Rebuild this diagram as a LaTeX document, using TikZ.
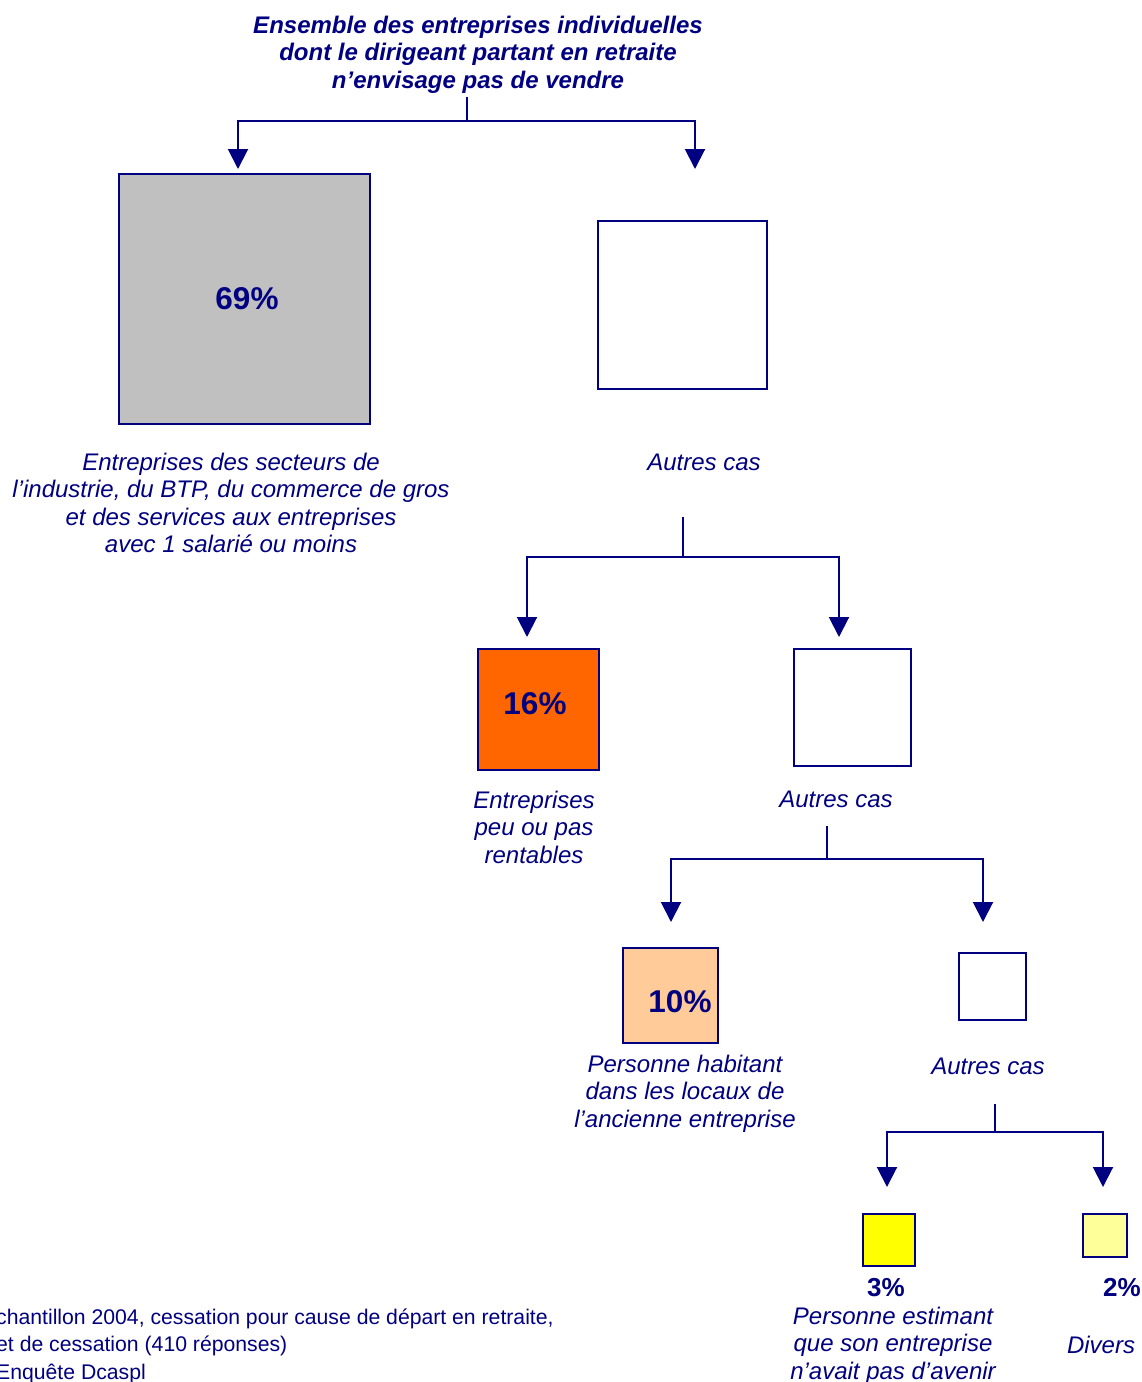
\documentclass[tikz,border=0pt]{standalone}
\usepackage{fontspec}
\setmainfont{Liberation Sans}
\usetikzlibrary{arrows.meta}
\definecolor{navy}{HTML}{000080}
\definecolor{gris}{HTML}{C0C0C0}
\definecolor{orange}{HTML}{FF6600}
\definecolor{peche}{HTML}{FFCC99}
\definecolor{jaune}{HTML}{FFFF00}
\definecolor{jaunepale}{HTML}{FFFF99}
\begin{document}
\begin{tikzpicture}[x=1pt,y=-1pt,
  conn/.style={draw=navy, line width=2pt, -{Triangle[width=20pt,length=20pt]}},
  stem/.style={draw=navy, line width=2pt},
  pbox/.style={draw=navy, line width=1.6pt, inner sep=0pt, text=navy,
    font=\bfseries\fontsize{31.5}{36}\selectfont},
  lbl/.style={text=navy, font=\itshape\fontsize{24}{27.5}\selectfont, align=center, inner sep=0pt},
  pct/.style={text=navy, font=\bfseries\fontsize{26}{30}\selectfont, inner sep=0pt},
  src/.style={text=navy, font=\fontsize{21.2}{27.5}\selectfont, align=left, inner sep=0pt}]
\useasboundingbox (0,0) rectangle (1141,1382);

% title
\node[lbl, font=\bfseries\itshape\fontsize{24}{27.5}\selectfont] (title) at (478,54.5)
  {Ensemble des entreprises individuelles\\dont le dirigeant partant en retraite\\n’envisage pas de vendre};

% level 1
\node[pbox, fill=gris, minimum width=251pt, minimum height=250pt] (b69) at (244.5,299) {};
\node[text=navy, font=\bfseries\fontsize{31.5}{36}\selectfont, inner sep=0pt] (p69) at (247,299) {69\%};
\node[pbox, fill=white, minimum width=169pt, minimum height=168pt] (b1) at (682.5,305) {};
\node[lbl] (l69) at (231,503) {Entreprises des secteurs de\\l’industrie, du BTP, du commerce de gros\\et des services aux entreprises\\avec 1 salarié ou moins};
\node[lbl] (a1) at (704,462) {Autres cas};

\coordinate (s1) at (467,97);
\coordinate (h1) at (467,121);
\coordinate (t1l) at (238,169);
\coordinate (t1r) at (695,169);
\draw[stem] (s1) -- (h1);
\draw[conn] (h1) -| (t1l);
\draw[conn] (h1) -| (t1r);

% level 2
\node[pbox, fill=orange, minimum size=121pt] (b16) at (538.5,709.5) {};
\node[text=navy, font=\bfseries\fontsize{31.5}{36}\selectfont, inner sep=0pt] (p16) at (535,704) {16\%};
\node[pbox, fill=white, minimum size=117pt] (b2) at (852.5,707.5) {};
\node[lbl] (l16) at (534,827) {Entreprises\\peu ou pas\\rentables};
\node[lbl] (a2) at (836,799) {Autres cas};

\coordinate (s2) at (683,517);
\coordinate (h2) at (683,557);
\coordinate (t2l) at (527,637);
\coordinate (t2r) at (839,637);
\draw[stem] (s2) -- (h2);
\draw[conn] (h2) -| (t2l);
\draw[conn] (h2) -| (t2r);

% level 3
\node[pbox, fill=peche, minimum size=95pt] (b10) at (670.5,995.5) {};
\node[text=navy, font=\bfseries\fontsize{31.5}{36}\selectfont, inner sep=0pt] (p10) at (680,1002) {10\%};
\node[pbox, fill=white, minimum size=67pt] (b3) at (992.5,986.5) {};
\node[lbl] (l10) at (685,1093.5) {Personne habitant\\dans les locaux de\\l’ancienne entreprise};
\node[lbl] (a3) at (988,1066) {Autres cas};

\coordinate (s3) at (827,826);
\coordinate (h3) at (827,859);
\coordinate (t3l) at (671,922);
\coordinate (t3r) at (983,922);
\draw[stem] (s3) -- (h3);
\draw[conn] (h3) -| (t3l);
\draw[conn] (h3) -| (t3r);

% level 4
\node[pbox, fill=jaune, minimum size=52pt] (b3p) at (889,1240) {};
\node[pbox, fill=jaunepale, minimum width=44pt, minimum height=43pt] (b2p) at (1105,1235.5) {};
\node[pct] (p3) at (886,1288) {3\%};
\node[pct] (p2) at (1122,1288) {2\%};
\node[lbl] (l3) at (893,1345.5) {Personne estimant\\que son entreprise\\n’avait pas d’avenir};
\node[lbl] (l2) at (1101,1345) {Divers};

\coordinate (s4) at (995,1104);
\coordinate (h4) at (995,1132);
\coordinate (t4l) at (887,1187);
\coordinate (t4r) at (1103,1187);
\draw[stem] (s4) -- (h4);
\draw[conn] (h4) -| (t4l);
\draw[conn] (h4) -| (t4r);

% source
\node[src, anchor=west] (src) at (-4,1346)
  {chantillon 2004, cessation pour cause de départ en retraite,\\et de cessation (410 réponses)\\Enquête Dcaspl};
\end{tikzpicture}
\end{document}
